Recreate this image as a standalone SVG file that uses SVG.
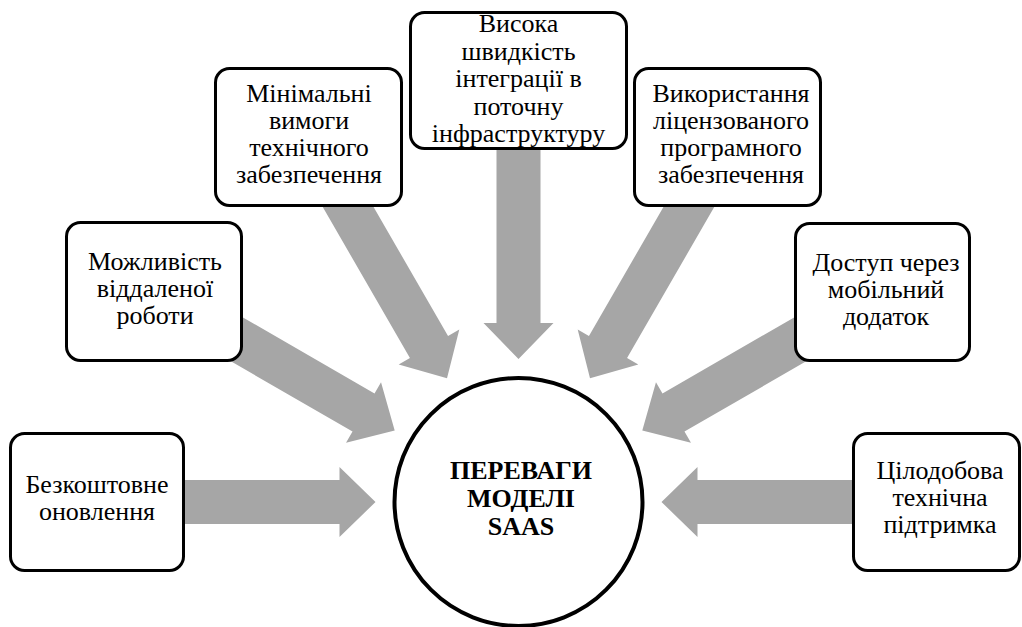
<svg xmlns="http://www.w3.org/2000/svg" xmlns:xlink="http://www.w3.org/1999/xlink" width="1022" height="627" viewBox="0 0 1022 627">
  <style>
    .box { fill: #ffffff; stroke: #000000; stroke-width: 3; }
    .hub { fill: #ffffff; stroke: #000000; stroke-width: 4; }
    .lbl { font-family: 'Liberation Serif', 'Times New Roman', serif; font-size: 26px; fill: #000000; text-anchor: middle; }
    .hubl { font-family: 'Liberation Serif', 'Times New Roman', serif; font-size: 26px; font-weight: bold; fill: #000000; text-anchor: middle; }
    .arr { fill: #a6a6a6; stroke: none; }
  </style>
  <defs>
    <path id="blockArrow" class="arr" d="M -230 -22 L -36 -22 L -36 -35 L 0 0 L -36 35 L -36 22 L -230 22 Z"/>
  </defs>
  <rect x="0" y="0" width="1022" height="627" fill="#ffffff"/>

  <g id="connectors">
    <use xlink:href="#blockArrow" transform="translate(375.5 502) rotate(0)"/>
    <use xlink:href="#blockArrow" transform="translate(394.7 430.5) rotate(30)"/>
    <use xlink:href="#blockArrow" transform="translate(447 378.2) rotate(60)"/>
    <use xlink:href="#blockArrow" transform="translate(518.5 359) rotate(90)"/>
    <use xlink:href="#blockArrow" transform="translate(590 378.2) rotate(120)"/>
    <use xlink:href="#blockArrow" transform="translate(642.3 430.5) rotate(150)"/>
    <use xlink:href="#blockArrow" transform="translate(661.5 502) rotate(180)"/>
  </g>

  <g id="node-free-update">
    <rect class="box" x="10.5" y="433.5" width="173" height="137" rx="14"/>
    <text class="lbl"><tspan x="97" y="493">Безкоштовне</tspan><tspan x="97" y="520">оновлення</tspan></text>
  </g>

  <g id="node-remote-work">
    <rect class="box" x="66.5" y="222.5" width="175" height="138" rx="14"/>
    <text class="lbl"><tspan x="155" y="270">Можливість</tspan><tspan x="155" y="297">віддаленої</tspan><tspan x="155" y="324">роботи</tspan></text>
  </g>

  <g id="node-min-requirements">
    <rect class="box" x="215.5" y="68.5" width="186" height="137" rx="14"/>
    <text class="lbl"><tspan x="309" y="102">Мінімальні</tspan><tspan x="309" y="129">вимоги</tspan><tspan x="309" y="156">технічного</tspan><tspan x="309" y="183">забезпечення</tspan></text>
  </g>

  <g id="node-integration">
    <rect class="box" x="410.5" y="12.5" width="216" height="136" rx="14"/>
    <text class="lbl"><tspan x="518.5" y="32">Висока</tspan><tspan x="518.5" y="60">швидкість</tspan><tspan x="518.5" y="87">інтеграції в</tspan><tspan x="518.5" y="115">поточну</tspan><tspan x="518.5" y="142">інфраструктуру</tspan></text>
  </g>

  <g id="node-licensed">
    <rect class="box" x="634.5" y="68.5" width="186" height="137" rx="14"/>
    <text class="lbl"><tspan x="731" y="102">Використання</tspan><tspan x="731" y="129">ліцензованого</tspan><tspan x="731" y="156">програмного</tspan><tspan x="731" y="183">забезпечення</tspan></text>
  </g>

  <g id="node-mobile">
    <rect class="box" x="795.5" y="223.5" width="174" height="137" rx="14"/>
    <text class="lbl"><tspan x="886" y="271">Доступ через</tspan><tspan x="886" y="298">мобільний</tspan><tspan x="886" y="325">додаток</tspan></text>
  </g>

  <g id="node-support">
    <rect class="box" x="853.5" y="433.5" width="166" height="137" rx="14"/>
    <text class="lbl"><tspan x="940" y="479">Цілодобова</tspan><tspan x="940" y="506">технічна</tspan><tspan x="940" y="533">підтримка</tspan></text>
  </g>

  <g id="node-center">
    <circle class="hub" cx="518.5" cy="502" r="124"/>
    <text class="hubl"><tspan x="521" y="479">ПЕРЕВАГИ</tspan><tspan x="521" y="507">МОДЕЛІ</tspan><tspan x="521" y="535">SAAS</tspan></text>
  </g>
</svg>
